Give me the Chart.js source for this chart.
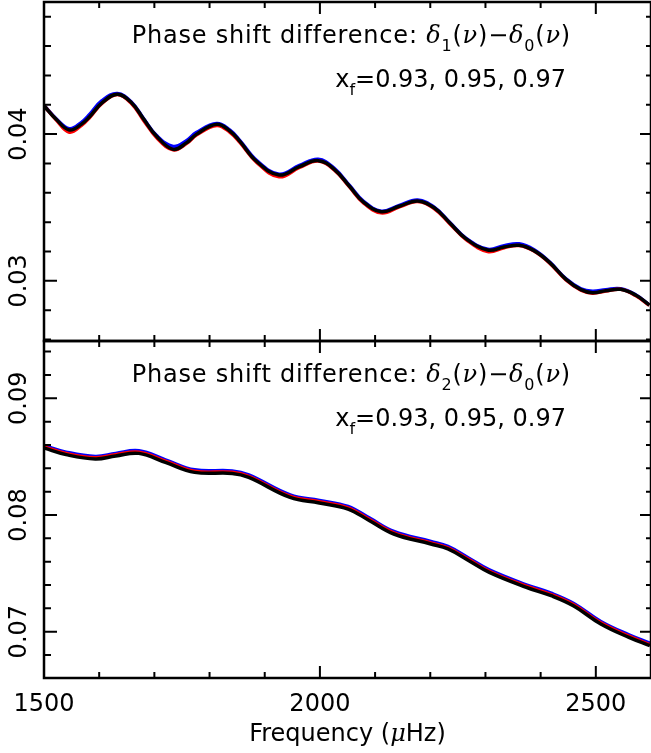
<!DOCTYPE html>
<html>
<head>
<meta charset="utf-8">
<script src="https://cdn.jsdelivr.net/npm/chart.js@4.4.1/dist/chart.umd.min.js"></script>
<style>
  html, body { margin: 0; padding: 0; background: #fff; }
  #wrap { position: relative; width: 651px; height: 753px; }
  #wrap canvas { position: absolute; left: 0; top: 0; }
</style>
</head>
<body>
<div id="wrap">
  <canvas id="top-chart" width="651" height="753"></canvas>
  <canvas id="bottom-chart" width="651" height="753"></canvas>
</div>
<script>
// top panel: delta1 - delta0
const freqTop = [1500, 1522, 1546, 1568, 1583, 1605, 1633, 1659, 1680, 1704, 1734, 1758, 1776, 1813,
  1837, 1855, 1885, 1926, 1963, 1997, 2026, 2054, 2078, 2111, 2144, 2177, 2207, 2235, 2265, 2304,
  2334, 2361, 2388, 2416, 2446, 2473, 2494, 2518, 2545, 2572, 2597];
const d10_xf093 = [0.04193, 0.04098, 0.04013, 0.04060, 0.04115, 0.04209, 0.04269, 0.04207, 0.04097,
  0.03977, 0.03893, 0.03935, 0.03993, 0.04059, 0.04012, 0.03944, 0.03809, 0.03709, 0.03773, 0.03816,
  0.03756, 0.03638, 0.03535, 0.03463, 0.03504, 0.03541, 0.03493, 0.03391, 0.03281, 0.03200, 0.03226,
  0.03240, 0.03203, 0.03122, 0.03006, 0.02936, 0.02916, 0.02930, 0.02942, 0.02900, 0.02833];
const d10_xf095 = [0.04195, 0.04104, 0.04036, 0.04080, 0.04135, 0.04227, 0.04277, 0.04215, 0.04108,
  0.03990, 0.03916, 0.03955, 0.04010, 0.04072, 0.04026, 0.03956, 0.03821, 0.03726, 0.03786, 0.03829,
  0.03766, 0.03648, 0.03545, 0.03475, 0.03514, 0.03550, 0.03502, 0.03399, 0.03289, 0.03215, 0.03240,
  0.03252, 0.03211, 0.03129, 0.03013, 0.02945, 0.02929, 0.02940, 0.02946, 0.02905, 0.02836];
const d10_xf097 = [0.04193, 0.04101, 0.04028, 0.04068, 0.04120, 0.04212, 0.04272, 0.04212, 0.04105,
  0.03985, 0.03896, 0.03940, 0.03998, 0.04067, 0.04020, 0.03950, 0.03815, 0.03721, 0.03778, 0.03819,
  0.03760, 0.03643, 0.03540, 0.03471, 0.03508, 0.03544, 0.03498, 0.03396, 0.03286, 0.03210, 0.03230,
  0.03242, 0.03206, 0.03126, 0.03010, 0.02940, 0.02919, 0.02932, 0.02942, 0.02903, 0.02835];

// bottom panel: delta2 - delta0
const freqBottom = [1500, 1540, 1593, 1630, 1672, 1720, 1773, 1841, 1871, 1946, 1999, 2051, 2090,
  2134, 2201, 2232, 2270, 2307, 2374, 2419, 2460, 2509, 2560, 2598];
const d20_xf093 = [0.08584, 0.08527, 0.08490, 0.08516, 0.08538, 0.08461, 0.08375, 0.08366, 0.08332,
  0.08161, 0.08113, 0.08061, 0.07961, 0.07847, 0.07761, 0.07719, 0.07618, 0.07518, 0.07390, 0.07318,
  0.07230, 0.07076, 0.06961, 0.06890];
const d20_xf095 = [0.08596, 0.08539, 0.08502, 0.08528, 0.08550, 0.08473, 0.08387, 0.08378, 0.08344,
  0.08173, 0.08125, 0.08073, 0.07973, 0.07859, 0.07773, 0.07731, 0.07630, 0.07530, 0.07402, 0.07330,
  0.07242, 0.07088, 0.06973, 0.06902];
const d20_xf097 = [0.08574, 0.08517, 0.08480, 0.08506, 0.08528, 0.08451, 0.08365, 0.08356, 0.08322,
  0.08151, 0.08103, 0.08051, 0.07951, 0.07837, 0.07751, 0.07709, 0.07608, 0.07508, 0.07380, 0.07308,
  0.07220, 0.07066, 0.06951, 0.06880];

const xTickLabels = ['1500', '2000', '2500'];
const yTickLabelsTop = ['0.03', '0.04'];
const yTickLabelsBottom = ['0.07', '0.08', '0.09'];
const xfLabel = '=0.93, 0.95, 0.97';

const SANS = '"DejaVu Sans"';
const SERIF = '"DejaVu Serif"';

// draws text pieces one after another, right aligned at xr
function drawPieces(ctx, pieces, xr, y) {
  let total = 0;
  pieces.forEach(p => { ctx.font = p.font; total += ctx.measureText(p.t).width; });
  let x = xr - total;
  ctx.textAlign = 'left';
  ctx.textBaseline = 'alphabetic';
  pieces.forEach(p => {
    ctx.font = p.font;
    ctx.fillText(p.t, x, y + (p.dy || 0));
    x += ctx.measureText(p.t).width;
  });
}

const frameTicks = {
  id: 'frameTicks',
  afterDraw(chart, args, opts) {
    const { ctx, chartArea: a, scales: { x, y } } = chart;
    ctx.save();
    ctx.strokeStyle = '#000';
    ctx.fillStyle = '#000';
    ctx.lineWidth = 2;
    ctx.beginPath();
    for (let v = 1500; v <= 2600; v += 100) {
      const px = x.getPixelForValue(v);
      const len = v % 500 === 0 ? 12 : 6;
      ctx.moveTo(px, a.bottom); ctx.lineTo(px, a.bottom - len);
      ctx.moveTo(px, a.top); ctx.lineTo(px, a.top + len);
    }
    const k0 = Math.ceil(y.min / 0.002 - 1e-6);
    const k1 = Math.floor(y.max / 0.002 + 1e-6);
    for (let k = k0; k <= k1; k++) {
      const py = y.getPixelForValue(k * 0.002);
      const major = k % 5 === 0;
      ctx.moveTo(a.left, py); ctx.lineTo(a.left + (major ? 13 : 7), py);
      ctx.moveTo(a.right, py); ctx.lineTo(a.right - (major ? 11 : 5), py);
    }
    ctx.stroke();

    ctx.lineWidth = 2.5;
    ctx.strokeRect(a.left, a.top, a.right - a.left, a.bottom - a.top);

    // y tick labels, rotated
    ctx.font = '24px ' + SANS;
    ctx.textAlign = 'center';
    ctx.textBaseline = 'alphabetic';
    opts.yLabels.forEach(lbl => {
      const py = y.getPixelForValue(parseFloat(lbl));
      ctx.save();
      ctx.translate(26, py);
      ctx.rotate(-Math.PI / 2);
      ctx.fillText(lbl, 0, 0);
      ctx.restore();
    });

    // annotation text
    const sub = opts.sub;
    ctx.save();
    ctx.letterSpacing = '0.8px';
    drawPieces(ctx, [
      { t: 'Phase shift difference: ', font: '24px ' + SANS },
      { t: 'δ', font: 'italic 24px ' + SERIF },
      { t: sub, font: '16px ' + SANS, dy: 8 },
      { t: '(', font: '24px ' + SANS },
      { t: 'ν', font: 'italic 24px ' + SERIF },
      { t: ')−', font: '24px ' + SANS },
      { t: 'δ', font: 'italic 24px ' + SERIF },
      { t: '0', font: '16px ' + SANS, dy: 8 },
      { t: '(', font: '24px ' + SANS },
      { t: 'ν', font: 'italic 24px ' + SERIF },
      { t: ')', font: '24px ' + SANS }
    ], 571, a.top + 41);
    ctx.restore();
    drawPieces(ctx, [
      { t: 'x', font: '24px ' + SANS },
      { t: 'f', font: '16px ' + SANS, dy: 8 },
      { t: xfLabel, font: '24px ' + SANS }
    ], 566, a.top + 85);

    if (opts.xLabels) {
      ctx.font = '24px ' + SANS;
      ctx.textAlign = 'center';
      xTickLabels.forEach(lbl => {
        ctx.fillText(lbl, x.getPixelForValue(parseFloat(lbl)), a.bottom + 33);
      });
      const cx = (a.left + a.right) / 2;
      const parts = [
        { t: 'Frequency (', font: '24px ' + SANS },
        { t: 'μ', font: 'italic 24px ' + SERIF },
        { t: 'Hz)', font: '24px ' + SANS }
      ];
      let w = 0;
      parts.forEach(p => { ctx.font = p.font; w += ctx.measureText(p.t).width; });
      drawPieces(ctx, parts, cx + w / 2, a.bottom + 63);
    }
    ctx.restore();
  }
};

function makeChart(id, freq, red, blue, black, yMin, yMax, padding, extras) {
  const series = [
    { values: black, color: '#000000' },
    { values: red, color: '#ff0000' },
    { values: blue, color: '#0000ff' }
  ];
  return new Chart(document.getElementById(id), {
    type: 'line',
    data: {
      datasets: series.map(s => ({
        data: freq.map((f, i) => ({ x: f, y: s.values[i] })),
        borderColor: s.color,
        borderWidth: 3.5,
        pointRadius: 0,
        fill: false,
        tension: 0.4
      }))
    },
    options: {
      responsive: false,
      animation: false,
      devicePixelRatio: 1,
      events: [],
      layout: { padding: padding, autoPadding: false },
      plugins: {
        legend: { display: false },
        tooltip: { enabled: false },
        frameTicks: extras
      },
      scales: {
        x: { type: 'linear', min: 1500, max: 2600, display: false },
        y: { type: 'linear', min: yMin, max: yMax, display: false }
      }
    },
    plugins: [frameTicks]
  });
}

makeChart('top-chart', freqTop, d10_xf093, d10_xf095, d10_xf097, 0.0259, 0.049,
  { left: 44, top: 2, right: 0, bottom: 412 },
  { yLabels: yTickLabelsTop, sub: '1', xLabels: false });

makeChart('bottom-chart', freqBottom, d20_xf093, d20_xf095, d20_xf097, 0.06603, 0.09491,
  { left: 44, top: 341, right: 0, bottom: 75 },
  { yLabels: yTickLabelsBottom, sub: '2', xLabels: true });
</script>
</body>
</html>
